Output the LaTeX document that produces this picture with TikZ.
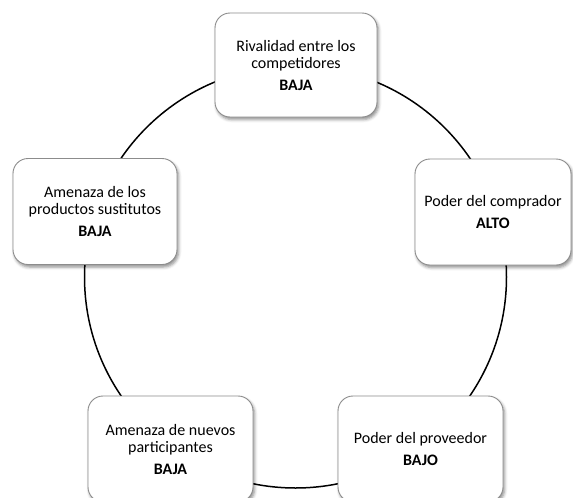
\documentclass[tikz,border=0pt]{standalone}
\usepackage{fontspec}
\setmainfont{Carlito}
\usetikzlibrary{shadows.blur}
\definecolor{boxborder}{HTML}{8C8C8C}
\tikzset{
  forcebox/.style={draw=boxborder, line width=0.9pt, fill=white, rounded corners=15pt,
    minimum width=164pt, minimum height=106pt, inner sep=0pt, align=center,
    font=\fontsize{16}{17}\selectfont,
    blur shadow={shadow xshift=1.5pt, shadow yshift=-2.5pt, shadow blur radius=3pt, shadow opacity=45}},
  cycleline/.style={draw=black, line width=1.5pt}
}
\begin{document}
\begin{tikzpicture}[x=1pt,y=-1pt]
\useasboundingbox (0,0) rectangle (573,498);
\coordinate (c) at (295.5,277);
\draw[cycleline] (c) circle (211pt);
\node[forcebox, minimum height=104pt, minimum width=162pt] (rival) at (296,65)
  {Rivalidad entre los\\competidores\\[5pt]\textbf{BAJA}};
\node[forcebox, minimum width=156pt] (comprador) at (493,212)
  {Poder del comprador\\[5pt]\textbf{ALTO}};
\node[forcebox] (sustitutos) at (95,211.5)
  {Amenaza de los\\productos sustitutos\\[5pt]\textbf{BAJA}};
\node[forcebox, minimum width=165pt] (nuevos) at (170.5,449)
  {Amenaza de nuevos\\participantes\\[5pt]\textbf{BAJA}};
\node[forcebox, minimum width=165pt] (proveedor) at (420.5,449)
  {Poder del proveedor\\[5pt]\textbf{BAJO}};
\end{tikzpicture}
\end{document}
